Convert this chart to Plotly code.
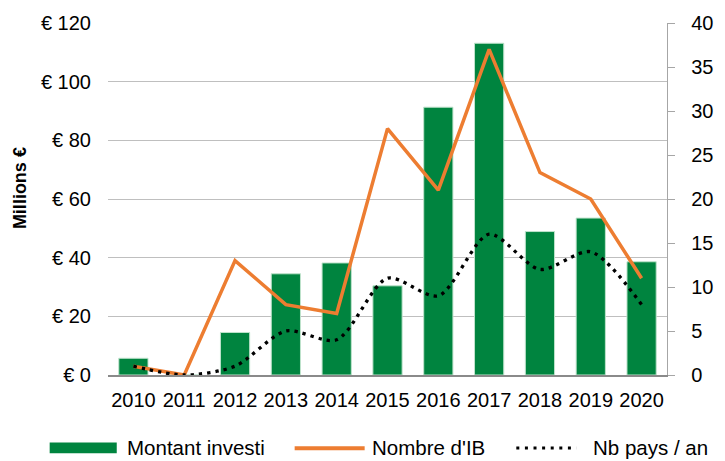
import plotly.graph_objects as go

years = ["2010", "2011", "2012", "2013", "2014", "2015", "2016", "2017", "2018", "2019", "2020"]
montant = [5.7, 0, 14.5, 34.5, 38.2, 30.4, 91.3, 113.1, 48.9, 53.5, 38.6]
nombre_ib = [1, 0, 13, 8, 7, 28, 21, 37, 23, 20, 11]
nb_pays = [1, 0, 1, 5, 4, 11, 9, 16, 12, 14, 8]

left_ticks = [0, 20, 40, 60, 80, 100, 120]
left_labels = ["€ 0", "€ 20", "€ 40", "€ 60", "€ 80", "€ 100", "€ 120"]
right_ticks = [0, 5, 10, 15, 20, 25, 30, 35, 40]

GREEN = "#00843F"
ORANGE = "#ED7D31"
FONT = "Liberation Sans, Arial, sans-serif"

W, H = 725, 461
ML, MR, MT, MB = 108, 42, 20, 86
PW, PH = W - ML - MR, H - MT - MB


def px(x):
    return (x - ML) / PW


def py(y):
    return (H - MB - y) / PH


fig = go.Figure()
fig.add_trace(go.Bar(x=years, y=montant, name="Montant investi",
                     marker=dict(color=GREEN, line=dict(color="#BFE3CC", width=1)),
                     showlegend=False))
fig.add_trace(go.Scatter(x=years, y=nombre_ib, name="Nombre d'IB", yaxis="y2",
                         mode="lines", line=dict(color=ORANGE, width=3.5),
                         showlegend=False))
fig.add_trace(go.Scatter(x=years, y=nb_pays, name="Nb pays / an", yaxis="y2",
                         mode="lines", line=dict(color="black", width=3.3, dash="3.3px,5px",
                                                 shape="spline", smoothing=0.8),
                         showlegend=False))

LEG_FONT = dict(size=20.5, color="black", family=FONT)
shapes = [
    dict(type="rect", xref="paper", yref="paper", x0=px(48), x1=px(117), y0=py(454), y1=py(443),
         fillcolor=GREEN, line=dict(width=0)),
    dict(type="line", xref="paper", yref="paper", x0=px(300), x1=px(372), y0=py(449), y1=py(449),
         line=dict(color=ORANGE, width=4)),
    dict(type="line", xref="paper", yref="paper", x0=px(528), x1=px(590), y0=py(448.5), y1=py(448.5),
         line=dict(color="black", width=3, dash="3px,5.6px")),
]
annotations = [
    dict(text="Montant investi", x=px(125), y=py(448), xref="paper", yref="paper",
         xanchor="left", yanchor="middle", showarrow=False, font=LEG_FONT),
    dict(text="Nombre d'IB", x=px(377), y=py(448), xref="paper", yref="paper",
         xanchor="left", yanchor="middle", showarrow=False, font=LEG_FONT),
    dict(text="Nb pays / an", x=px(605), y=py(448), xref="paper", yref="paper",
         xanchor="left", yanchor="middle", showarrow=False, font=LEG_FONT),
    dict(text="<b>Millions €</b>", x=px(17), y=py(187), xref="paper", yref="paper",
         xanchor="center", yanchor="middle", textangle=-90, showarrow=False,
         font=dict(size=18, color="black", family=FONT)),
]

fig.update_layout(
    width=W, height=H,
    margin=dict(l=ML, r=MR, t=MT, b=MB),
    plot_bgcolor="white", paper_bgcolor="white",
    font=dict(family=FONT, size=20, color="black"),
    bargap=0.425,
    shapes=shapes,
    annotations=annotations,
    xaxis=dict(showgrid=False, showline=True, linecolor="#8A8A8A", linewidth=1.5,
               ticks="", tickfont=dict(size=20), ticklabelstandoff=6),
    yaxis=dict(range=[0, 120], tickvals=left_ticks, ticktext=left_labels,
               showgrid=True, gridcolor="#BFBFBF", gridwidth=1.4, zeroline=False,
               showline=False, ticks="", tickfont=dict(size=20), ticklabelstandoff=16),
    yaxis2=dict(range=[0, 40], tickvals=right_ticks, overlaying="y", side="right",
                showgrid=False, zeroline=False, showline=True, linecolor="#A6A6A6", linewidth=1.3,
                ticks="outside", ticklen=7, tickcolor="#A6A6A6", tickwidth=1.3,
                tickfont=dict(size=20), ticklabelstandoff=12),
)

fig.write_html("out.html", config={"displayModeBar": False},
               post_script="document.body.style.margin='0';document.body.style.padding='0';")
